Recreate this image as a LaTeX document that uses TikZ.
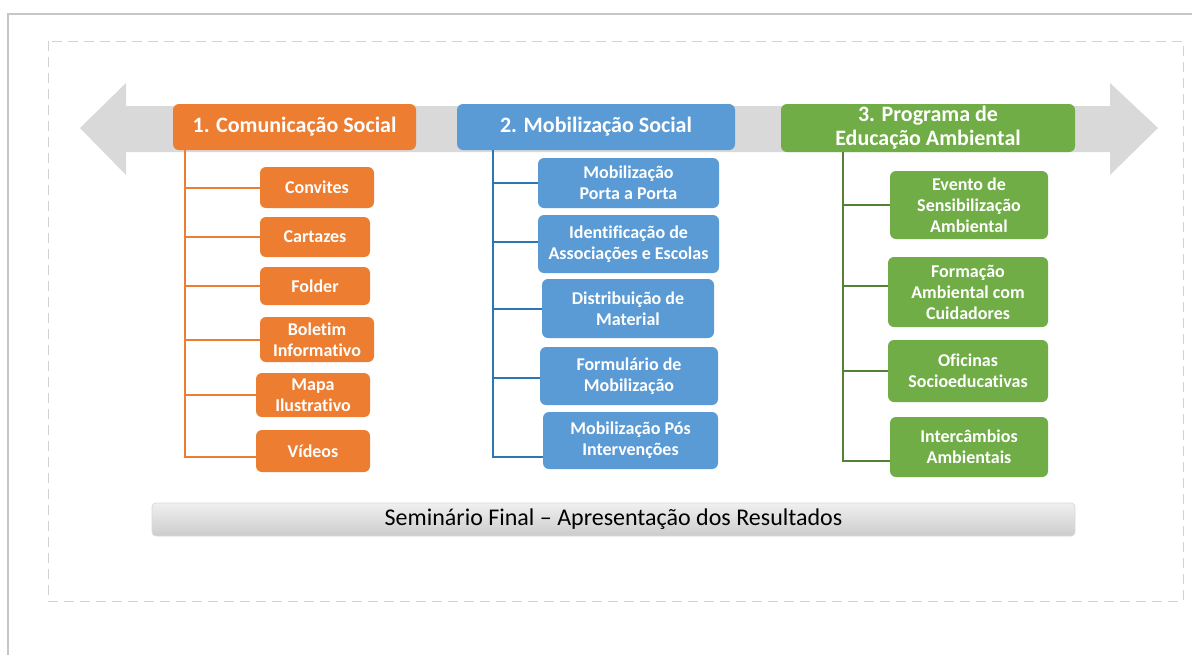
\documentclass[tikz,border=0pt]{standalone}
\usepackage{fontspec}
\setmainfont{Carlito}[Ligatures = NoCommon]
\usepackage{tikz}
\usetikzlibrary{calc}

\definecolor{laranja}{HTML}{ED7D31}
\definecolor{azul}{HTML}{5B9BD5}
\definecolor{azulesc}{HTML}{2E75B6}
\definecolor{verde}{HTML}{70AD47}
\definecolor{verdeesc}{HTML}{548235}
\definecolor{seta}{HTML}{D9D9D9}

\begin{document}
\begin{tikzpicture}[x = 0.5pt, y = -0.5pt,
  titulo/.style = {rounded corners = 3pt, text = white, align = center, inner sep = 1pt,
    font = \fontsize{11}{12}\selectfont\bfseries},
  item/.style = {rounded corners = 3pt, text = white, align = center, inner sep = 1pt,
    font = \fontsize{9}{10.5}\selectfont\bfseries},
  lin/.style = {line width = 1pt}]
  \useasboundingbox (0,0) rectangle (1192,655);
  \fill[white] (0,0) rectangle (1192,655);
  \draw[gray!45, line width = 1pt] (8,655) -- (8,14) -- (1192,14);
  \draw[gray!35, dash pattern = on 5pt off 3pt] (48,41) rectangle (1183,601);
  % seta dupla
  \fill[seta] (80,128) -- (126,83) -- (126,106) -- (1110,106) -- (1110,83) -- (1158,128)
    -- (1110,175) -- (1110,152) -- (126,152) -- (126,175) -- cycle;
  % eixos
  \node[titulo, fill = laranja, minimum width = 121.5pt, minimum height = 23pt] (com) at (294.5,127) {1. Comunicação Social};
  \node[titulo, fill = azul, minimum width = 139pt, minimum height = 23pt] (mob) at (596,127) {2. Mobilização Social};
  \node[titulo, fill = verde, minimum width = 147pt, minimum height = 24pt, text depth = 2pt] (edu) at (928,128) {3. Programa de\\Educação Ambiental};
  % comunicação
  \node[item, fill = laranja, minimum width = 57pt, minimum height = 20.5pt] (c1) at (317,187.5) {Convites};
  \node[item, fill = laranja, minimum width = 55pt, minimum height = 20pt] (c2) at (315,237) {Cartazes};
  \node[item, fill = laranja, minimum width = 55pt, minimum height = 19pt] (c3) at (315,286) {Folder};
  \node[item, fill = laranja, minimum width = 57pt, minimum height = 22.5pt] (c4) at (317,339.5) {Boletim\\Informativo};
  \node[item, fill = laranja, minimum width = 57pt, minimum height = 22pt] (c5) at (313,395) {Mapa\\Ilustrativo};
  \node[item, fill = laranja, minimum width = 57pt, minimum height = 21pt] (c6) at (313,451) {Vídeos};
  % mobilização
  \node[item, fill = azul, minimum width = 90.5pt, minimum height = 25pt] (m1) at (628.5,183) {Mobilização\\Porta a Porta};
  \node[item, fill = azul, minimum width = 90.5pt, minimum height = 29pt] (m2) at (628.5,244) {Identificação de\\Associações e Escolas};
  \node[item, fill = azul, minimum width = 86pt, minimum height = 29.5pt] (m3) at (628,308.5) {Distribuição de\\Material};
  \node[item, fill = azul, minimum width = 89pt, minimum height = 29pt] (m4) at (629,376) {Formulário de\\Mobilização};
  \node[item, fill = azul, minimum width = 87.5pt, minimum height = 28.5pt] (m5) at (630.5,440.5) {Mobilização Pós\\Intervenções};
  % educação
  \node[item, fill = verde, minimum width = 79pt, minimum height = 34pt] (e1) at (969,205) {Evento de\\Sensibilização\\Ambiental};
  \node[item, fill = verde, minimum width = 80pt, minimum height = 35pt] (e2) at (968,292) {Formação\\Ambiental com\\Cuidadores};
  \node[item, fill = verde, minimum width = 80pt, minimum height = 31pt] (e3) at (968,371) {Oficinas\\Socioeducativas};
  \node[item, fill = verde, minimum width = 79pt, minimum height = 30pt] (e4) at (969,447) {Intercâmbios\\Ambientais};
  \coordinate (cs) at (185,150);
  \coordinate (ms) at (493,150);
  \coordinate (es) at (843,152);
  \draw[lin, laranja] (cs) |- (c1.west);
  \draw[lin, laranja] (cs) |- (c2.west);
  \draw[lin, laranja] (cs) |- (c3.west);
  \draw[lin, laranja] (cs) |- (c4.west);
  \draw[lin, laranja] (cs) |- (c5.west);
  \draw[lin, laranja] (cs) |- ([yshift = -3pt]c6.west);
  \draw[lin, azulesc] (ms) |- (m1.west);
  \draw[lin, azulesc] (ms) |- ([yshift = 1pt]m2.west);
  \draw[lin, azulesc] (ms) |- (m3.west);
  \draw[lin, azulesc] (ms) |- ([yshift = -1pt]m4.west);
  \draw[lin, azulesc] (ms) |- ([yshift = -8pt]m5.west);
  \draw[lin, verdeesc, line width = 1.3pt] (es) |- (e1.west);
  \draw[lin, verdeesc, line width = 1.3pt] (es) |- ([yshift = 3pt]e2.west);
  \draw[lin, verdeesc, line width = 1.3pt] (es) |- (e3.west);
  \draw[lin, verdeesc, line width = 1.3pt] (es) |- ([yshift = -7pt]e4.west);
  % seminário
  \node[rounded corners = 2pt, top color = gray!12, bottom color = gray!40, draw = gray!30,
    minimum width = 461.5pt, minimum height = 16.5pt, inner sep = 1pt,
    font = \fontsize{12}{13}\selectfont] (sem) at (613.5,519.5) {Seminário Final -- Apresentação dos Resultados};
\end{tikzpicture}
\end{document}
